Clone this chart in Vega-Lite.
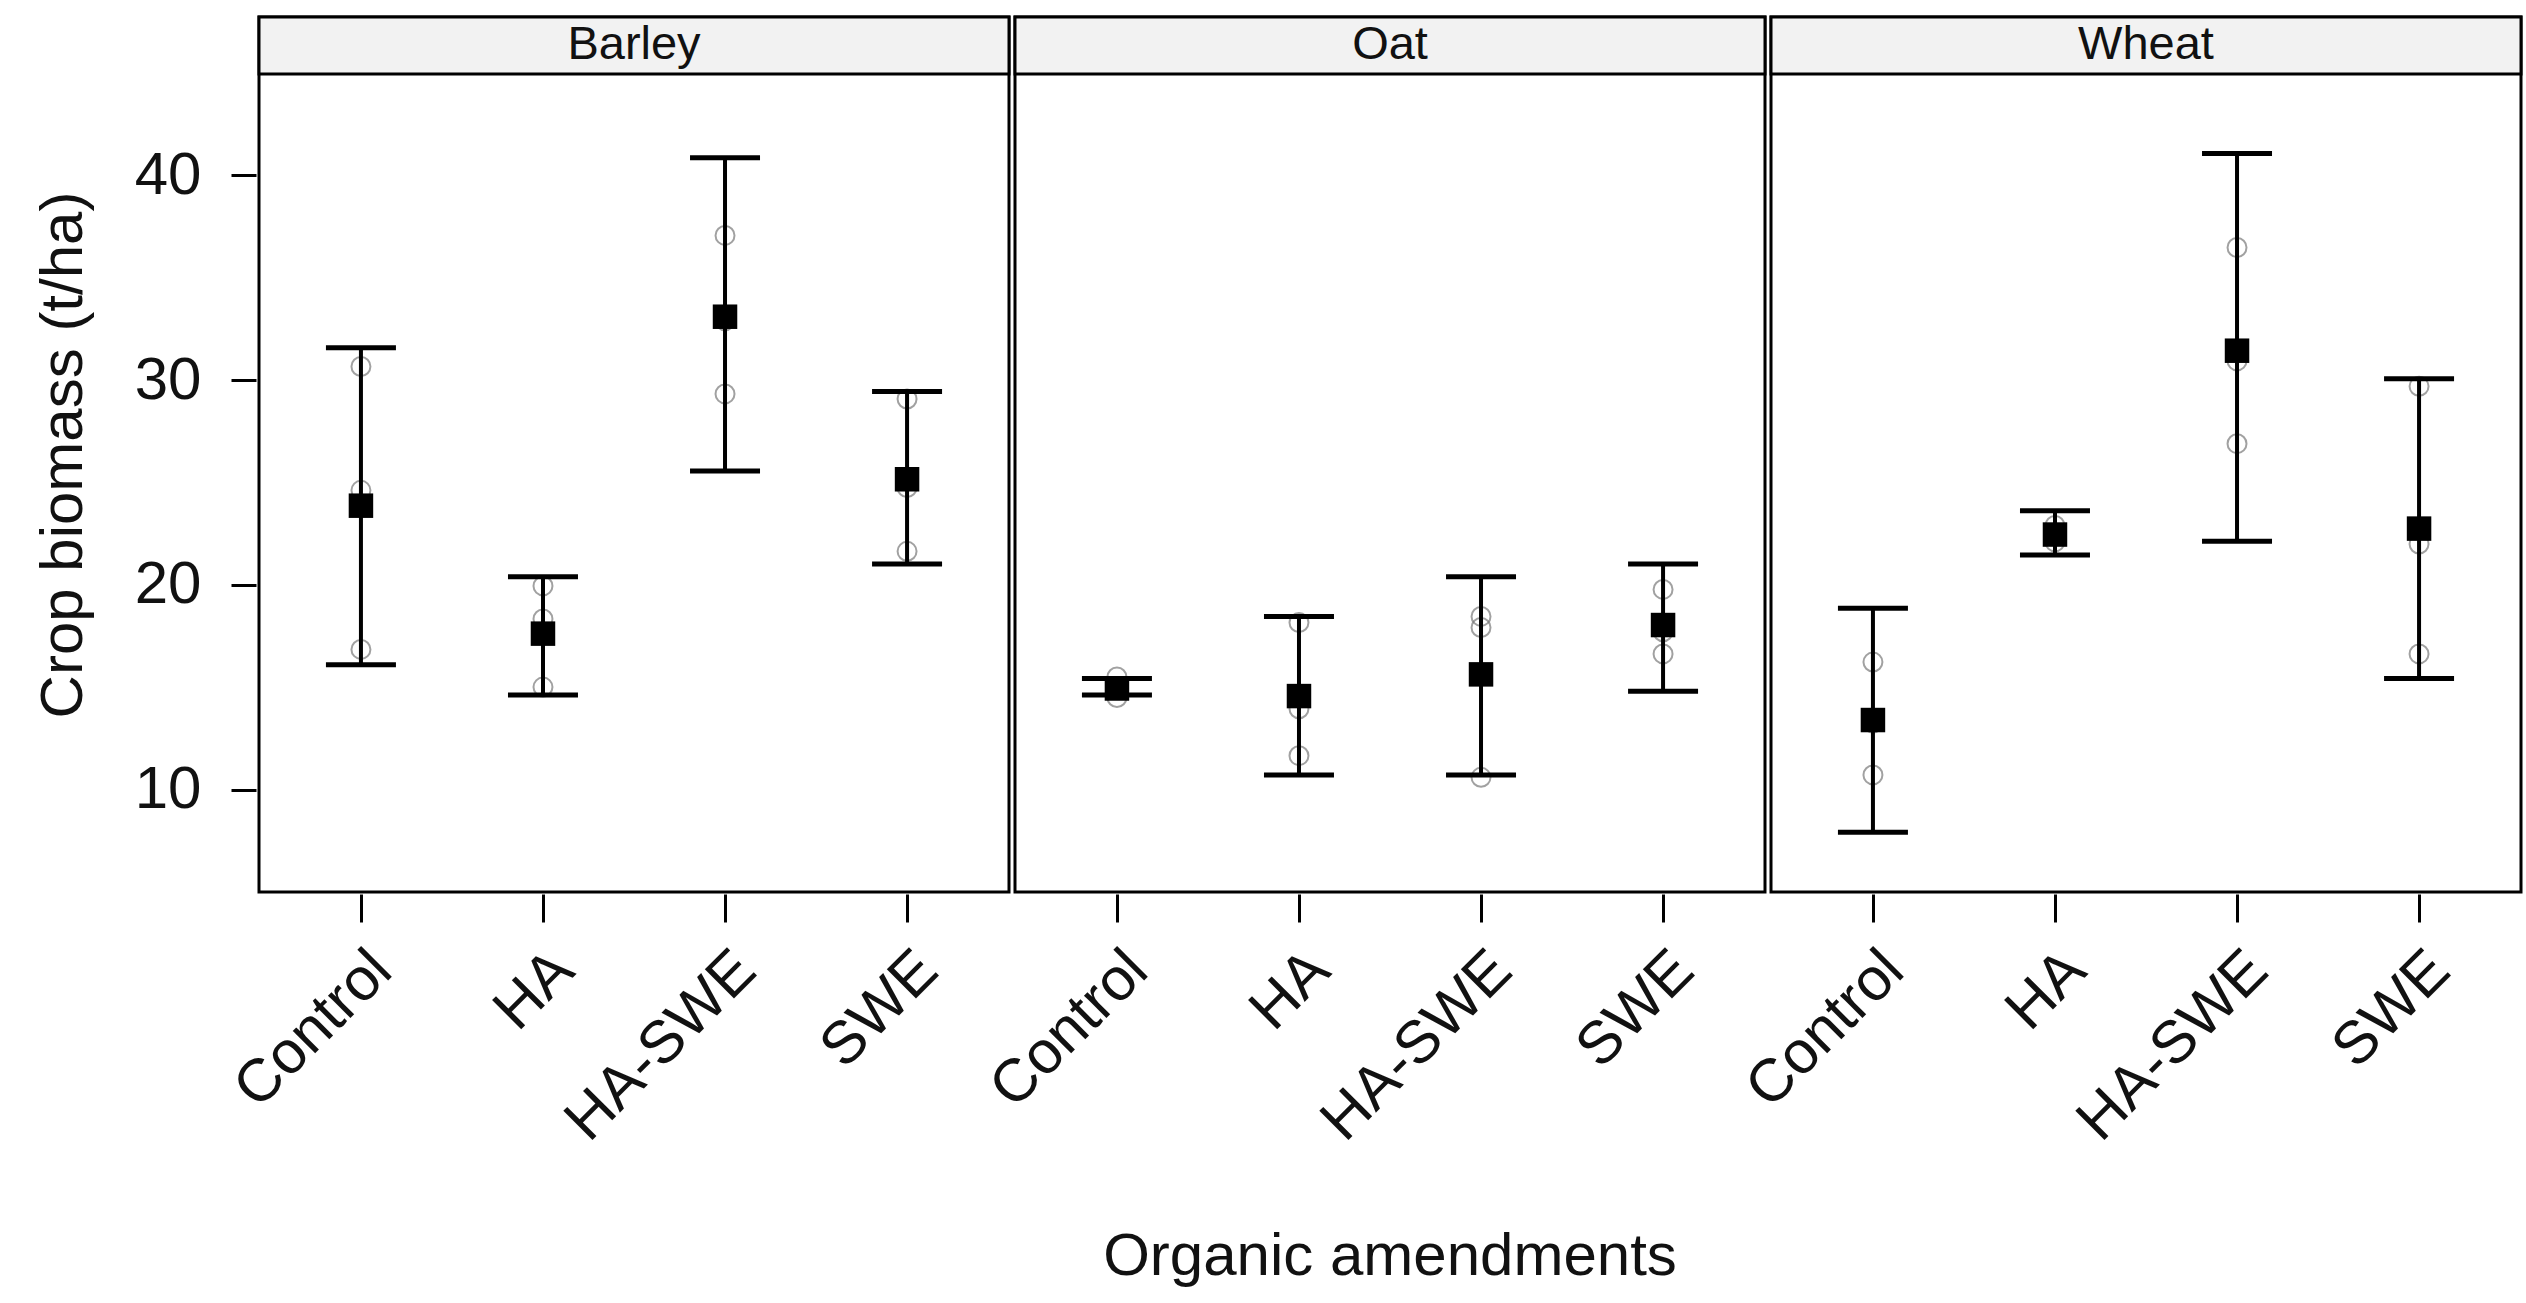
{
  "$schema": "https://vega.github.io/schema/vega-lite/v6.json",
  "padding": {"left": 33, "top": 14, "right": 5, "bottom": 5},
  "config": {
    "font": "Liberation Sans",
    "view": {"stroke": "black", "strokeWidth": 3},
    "axis": {"labelFont": "Liberation Sans", "titleFont": "Liberation Sans", "labelColor": "#111", "titleColor": "#111", "domain": false, "grid": false, "tickColor": "black", "tickWidth": 3, "titleFontWeight": "normal", "labelLimit": 0}
  },
  "data": {"values": [
    {"crop": "Barley", "amendment": "Control", "kind": "obs", "value": 30.67},
    {"crop": "Barley", "amendment": "Control", "kind": "obs", "value": 24.62},
    {"crop": "Barley", "amendment": "Control", "kind": "obs", "value": 16.85},
    {"crop": "Barley", "amendment": "Control", "kind": "mean", "value": 23.87, "lower": 16.10, "upper": 31.59},
    {"crop": "Barley", "amendment": "HA", "kind": "obs", "value": 19.95},
    {"crop": "Barley", "amendment": "HA", "kind": "obs", "value": 18.34},
    {"crop": "Barley", "amendment": "HA", "kind": "obs", "value": 15.01},
    {"crop": "Barley", "amendment": "HA", "kind": "mean", "value": 17.62, "lower": 14.62, "upper": 20.40},
    {"crop": "Barley", "amendment": "HA-SWE", "kind": "obs", "value": 37.07},
    {"crop": "Barley", "amendment": "HA-SWE", "kind": "obs", "value": 32.90},
    {"crop": "Barley", "amendment": "HA-SWE", "kind": "obs", "value": 29.33},
    {"crop": "Barley", "amendment": "HA-SWE", "kind": "mean", "value": 33.10, "lower": 25.56, "upper": 40.87},
    {"crop": "Barley", "amendment": "SWE", "kind": "obs", "value": 29.08},
    {"crop": "Barley", "amendment": "SWE", "kind": "obs", "value": 24.76},
    {"crop": "Barley", "amendment": "SWE", "kind": "obs", "value": 21.64},
    {"crop": "Barley", "amendment": "SWE", "kind": "mean", "value": 25.16, "lower": 21.02, "upper": 29.45},
    {"crop": "Oat", "amendment": "Control", "kind": "obs", "value": 15.5},
    {"crop": "Oat", "amendment": "Control", "kind": "obs", "value": 14.9},
    {"crop": "Oat", "amendment": "Control", "kind": "obs", "value": 14.5},
    {"crop": "Oat", "amendment": "Control", "kind": "mean", "value": 14.94, "lower": 14.62, "upper": 15.43},
    {"crop": "Oat", "amendment": "HA", "kind": "obs", "value": 18.16},
    {"crop": "Oat", "amendment": "HA", "kind": "obs", "value": 13.95},
    {"crop": "Oat", "amendment": "HA", "kind": "obs", "value": 11.66},
    {"crop": "Oat", "amendment": "HA", "kind": "mean", "value": 14.57, "lower": 10.72, "upper": 18.46},
    {"crop": "Oat", "amendment": "HA-SWE", "kind": "obs", "value": 18.46},
    {"crop": "Oat", "amendment": "HA-SWE", "kind": "obs", "value": 17.92},
    {"crop": "Oat", "amendment": "HA-SWE", "kind": "obs", "value": 10.6},
    {"crop": "Oat", "amendment": "HA-SWE", "kind": "mean", "value": 15.63, "lower": 10.72, "upper": 20.40},
    {"crop": "Oat", "amendment": "SWE", "kind": "obs", "value": 19.78},
    {"crop": "Oat", "amendment": "SWE", "kind": "obs", "value": 17.71},
    {"crop": "Oat", "amendment": "SWE", "kind": "obs", "value": 16.63},
    {"crop": "Oat", "amendment": "SWE", "kind": "mean", "value": 18.04, "lower": 14.81, "upper": 21.02},
    {"crop": "Wheat", "amendment": "Control", "kind": "obs", "value": 16.23},
    {"crop": "Wheat", "amendment": "Control", "kind": "obs", "value": 13.25},
    {"crop": "Wheat", "amendment": "Control", "kind": "obs", "value": 10.72},
    {"crop": "Wheat", "amendment": "Control", "kind": "mean", "value": 13.40, "lower": 7.92, "upper": 18.86},
    {"crop": "Wheat", "amendment": "HA", "kind": "obs", "value": 22.9},
    {"crop": "Wheat", "amendment": "HA", "kind": "obs", "value": 22.4},
    {"crop": "Wheat", "amendment": "HA", "kind": "obs", "value": 22.1},
    {"crop": "Wheat", "amendment": "HA", "kind": "mean", "value": 22.46, "lower": 21.46, "upper": 23.62},
    {"crop": "Wheat", "amendment": "HA-SWE", "kind": "obs", "value": 36.48},
    {"crop": "Wheat", "amendment": "HA-SWE", "kind": "obs", "value": 30.94},
    {"crop": "Wheat", "amendment": "HA-SWE", "kind": "obs", "value": 26.90},
    {"crop": "Wheat", "amendment": "HA-SWE", "kind": "mean", "value": 31.44, "lower": 22.13, "upper": 41.07},
    {"crop": "Wheat", "amendment": "SWE", "kind": "obs", "value": 29.70},
    {"crop": "Wheat", "amendment": "SWE", "kind": "obs", "value": 22.0},
    {"crop": "Wheat", "amendment": "SWE", "kind": "obs", "value": 16.63},
    {"crop": "Wheat", "amendment": "SWE", "kind": "mean", "value": 22.75, "lower": 15.43, "upper": 30.07}
  ]},
  "spacing": 0,
  "facet": {
    "column": {
      "field": "crop", "type": "nominal", "sort": ["Barley", "Oat", "Wheat"],
      "header": {"labels": false, "title": "Organic amendments", "titleOrient": "bottom", "titleFontSize": 60, "titleFont": "Liberation Sans", "titleFontWeight": "normal", "titleColor": "#111", "titlePadding": 66}
    }
  },
  "spec": {
    "width": 750,
    "height": 875,
    "layer": [
      {
        "transform": [{"filter": "datum.kind === 'obs'"}],
        "mark": {"type": "point", "shape": "circle", "filled": false, "stroke": "#7a7a7a", "strokeWidth": 2, "size": 360},
        "encoding": {
          "x": {"field": "amendment", "type": "nominal", "sort": ["Control", "HA", "HA-SWE", "SWE"], "scale": {"type": "point", "padding": 0.56}, "axis": {"title": null, "labelAngle": -45, "labelAlign": "right", "labelBaseline": "top", "labelFontSize": 60, "tickSize": 28, "labelPadding": 18, "labelLimit": 0}},
          "y": {"field": "value", "type": "quantitative", "scale": {"domain": [5, 47.74], "nice": false, "zero": false}, "axis": {"values": [10, 20, 30, 40], "title": "Crop biomass (t/ha)", "titleFontSize": 60, "labelFontSize": 60, "tickSize": 25, "labelPadding": 30, "titlePadding": 40}}
        }
      },
      {
        "transform": [{"filter": "datum.kind === 'mean'"}],
        "mark": {"type": "rule", "color": "black", "strokeWidth": 4},
        "encoding": {
          "x": {"field": "amendment", "type": "nominal", "sort": ["Control", "HA", "HA-SWE", "SWE"]},
          "y": {"field": "lower", "type": "quantitative"},
          "y2": {"field": "upper"}
        }
      },
      {
        "transform": [{"filter": "datum.kind === 'mean'"}],
        "mark": {"type": "tick", "color": "black", "size": 70, "thickness": 5, "opacity": 1},
        "encoding": {
          "x": {"field": "amendment", "type": "nominal", "sort": ["Control", "HA", "HA-SWE", "SWE"]},
          "y": {"field": "lower", "type": "quantitative"}
        }
      },
      {
        "transform": [{"filter": "datum.kind === 'mean'"}],
        "mark": {"type": "tick", "color": "black", "size": 70, "thickness": 5, "opacity": 1},
        "encoding": {
          "x": {"field": "amendment", "type": "nominal", "sort": ["Control", "HA", "HA-SWE", "SWE"]},
          "y": {"field": "upper", "type": "quantitative"}
        }
      },
      {
        "transform": [{"filter": "datum.kind === 'mean'"}],
        "mark": {"type": "point", "shape": "square", "filled": true, "color": "black", "opacity": 1, "size": 600},
        "encoding": {
          "x": {"field": "amendment", "type": "nominal", "sort": ["Control", "HA", "HA-SWE", "SWE"]},
          "y": {"field": "value", "type": "quantitative"}
        }
      },
      {
        "transform": [{"filter": "datum.kind === 'mean' && datum.amendment === 'Control'"}],
        "mark": {"type": "rect", "fill": "#f2f2f2", "stroke": "black", "strokeWidth": 3},
        "encoding": {
          "y": {"datum": 44.96},
          "y2": {"datum": 47.74}
        }
      },
      {
        "transform": [{"filter": "datum.kind === 'mean' && datum.amendment === 'Control'"}],
        "mark": {"type": "text", "fontSize": 47, "color": "#111", "baseline": "middle", "align": "center"},
        "encoding": {
          "y": {"datum": 46.35},
          "text": {"field": "crop"}
        }
      }
    ]
  }
}
